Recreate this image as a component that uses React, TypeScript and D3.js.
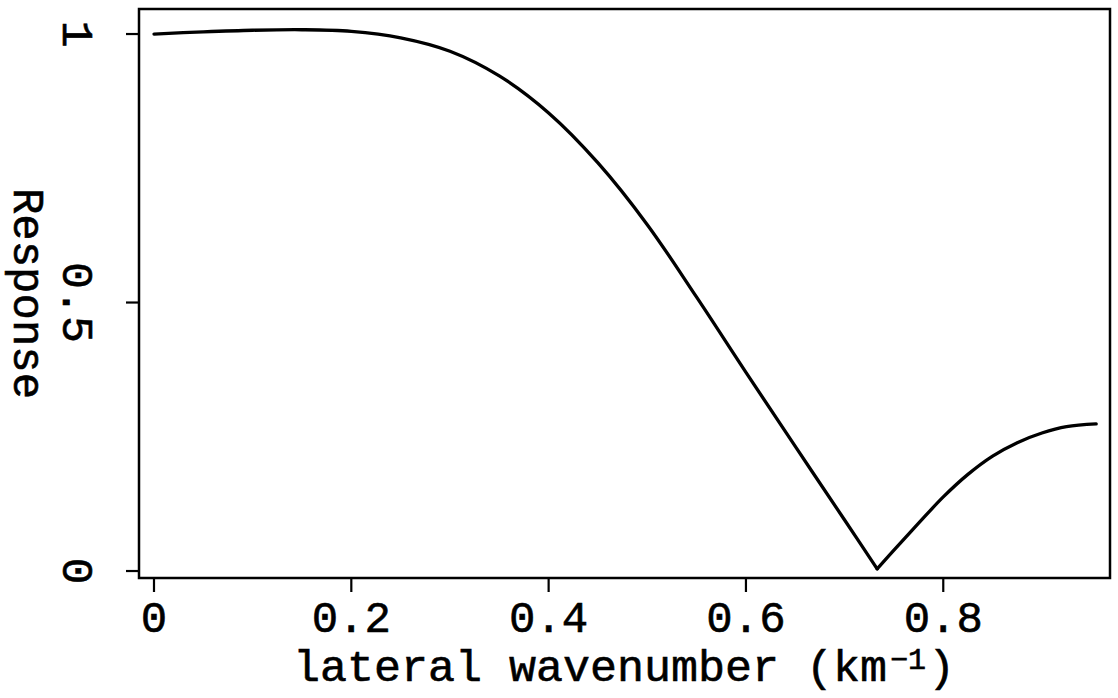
import React from "react";
import * as d3 from "d3";

// falling branch (up to the notch) and rising branch (from the notch on)
const fallWavenumber = [0, 0.05, 0.1, 0.15, 0.2, 0.25, 0.3, 0.35, 0.4, 0.45, 0.5, 0.55, 0.6, 0.65, 0.7, 0.733];
const fallResponse = [1.0, 1.004, 1.007, 1.008, 1.005, 0.993, 0.968, 0.922, 0.853, 0.76, 0.645, 0.51, 0.37, 0.232, 0.095, 0.004];
const riseWavenumber = [0.733, 0.75, 0.775, 0.8, 0.825, 0.85, 0.875, 0.9, 0.925, 0.955];
const riseResponse = [0.004, 0.039, 0.089, 0.138, 0.18, 0.214, 0.239, 0.257, 0.269, 0.274];
const xTicks = [0, 0.2, 0.4, 0.6, 0.8];
const xTickLabels = ["0", "0.2", "0.4", "0.6", "0.8"];
const yTicks = [0, 0.5, 1];
const yTickLabels = ["0", "0.5", "1"];

const W = 1118;
const H = 698;
const FONT = "'Liberation Mono', 'DejaVu Sans Mono', monospace";

export default function App() {
  const x = d3.scaleLinear().domain([-0.0152, 0.969]).range([139, 1110]);
  const y = d3.scaleLinear().domain([-0.013, 1.0466]).range([578, 9]);
  const fall = fallWavenumber.map((w, i) => [w, fallResponse[i]] as [number, number]);
  const rise = riseWavenumber.map((w, i) => [w, riseResponse[i]] as [number, number]);
  const line = d3
    .line<[number, number]>()
    .x((d) => x(d[0]))
    .y((d) => y(d[1]))
    .curve(d3.curveCatmullRom.alpha(0.5));
  const [x0, x1] = x.range();
  const [y0, y1] = y.range();
  const txt = { fill: "#000", stroke: "#000", strokeWidth: 0.6 };
  return (
    <svg
      width={W}
      height={H}
      style={{ position: "absolute", left: 0, top: 0, background: "#fff" }}
      fontFamily={FONT}
    >
      <rect x={0} y={0} width={W} height={H} fill="#fff" />
      <rect
        x={x0}
        y={y1}
        width={x1 - x0}
        height={y0 - y1}
        fill="none"
        stroke="#000"
        strokeWidth={2.5}
      />
      {xTicks.map((t, i) => (
        <g key={"xt" + i}>
          <line x1={x(t)} x2={x(t)} y1={y0} y2={y0 + 14} stroke="#000" strokeWidth={2.2} />
          <text x={x(t)} y={632} textAnchor="middle" fontSize={44} {...txt}>
            {xTickLabels[i]}
          </text>
        </g>
      ))}
      {yTicks.map((t, i) => (
        <g key={"yt" + i}>
          <line x1={x0 - 13} x2={x0} y1={y(t)} y2={y(t)} stroke="#000" strokeWidth={2.2} />
          <text
            transform={`translate(63,${y(t)}) rotate(90)`}
            textAnchor="middle"
            fontSize={45}
            {...txt}
          >
            {yTickLabels[i]}
          </text>
        </g>
      ))}
      <path d={line(fall) || ""} fill="none" stroke="#000" strokeWidth={3.3} strokeLinejoin="round" strokeLinecap="round" />
      <path d={line(rise) || ""} fill="none" stroke="#000" strokeWidth={3.3} strokeLinejoin="round" strokeLinecap="round" />
      <text x={624} y={681} textAnchor="middle" fontSize={45} {...txt}>
        lateral wavenumber (km
        <tspan fontSize={30} dx={3} dy={-12}>−1</tspan>
        <tspan dx={2} dy={12}>)</tspan>
      </text>
      <text
        transform={`translate(14,${(y0 + y1) / 2}) rotate(90)`}
        textAnchor="middle"
        fontSize={44}
        {...txt}
      >
        Response
      </text>
    </svg>
  );
}
